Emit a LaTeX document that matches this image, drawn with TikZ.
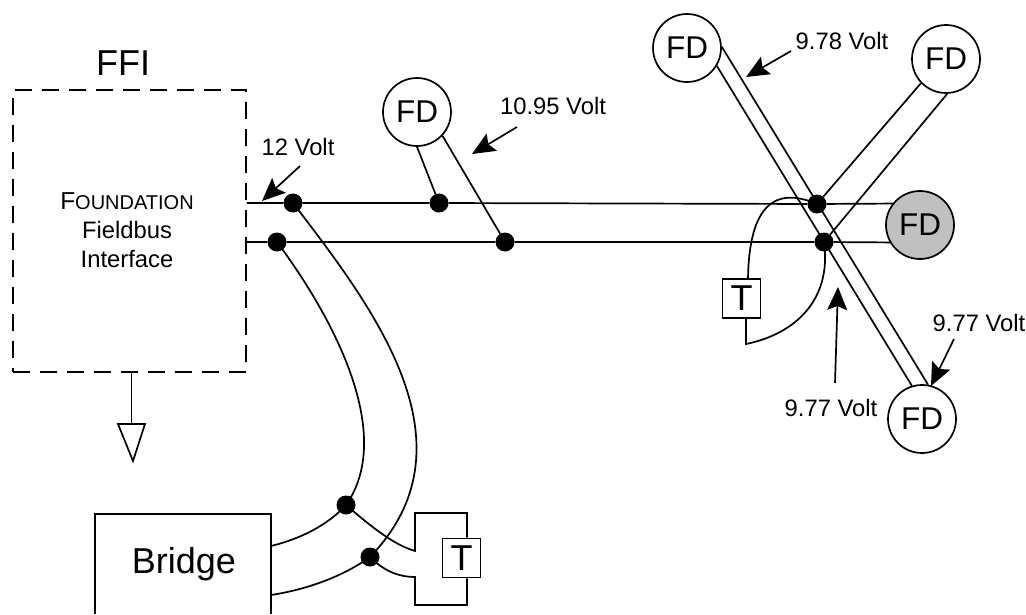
\documentclass[tikz,border=0pt]{standalone}
\usepackage{fontspec}
\setmainfont{Liberation Sans}
\usetikzlibrary{arrows.meta}
\newcommand{\fsz}[1]{\fontsize{#1pt}{#1pt}\selectfont}
\tikzset{
  x=1pt,y=-1pt,
  wire/.style={line width=1.7pt},
  fdnode/.style={circle,draw,line width=1.7pt,minimum size=68pt,inner sep=0pt,font=\fsz{31.5}},
  dotnode/.style={circle,fill=black,minimum size=19pt,inner sep=0pt},
  tbox/.style={rectangle,draw,line width=1.7pt,minimum width=38pt,minimum height=39pt,inner sep=0pt,font=\fsz{36}},
  lbl/.style={inner sep=0pt,font=\fsz{23.8}},
  callout/.style={line width=1.7pt,-{Stealth[length=23pt,width=20pt,inset=4pt]}},
}
\begin{document}
\begin{tikzpicture}
\useasboundingbox (0,0) rectangle (1026,614);
% nodes
\node[fdnode] (fda) at (687,48) {FD};
\node[fdnode] (fdb) at (946,59) {FD};
\node[fdnode,fill={rgb,255:red,192;green,192;blue,192}] (fdc) at (920,225) {FD};
\node[fdnode] (fdd) at (922,419) {FD};
\node[fdnode] (fde) at (417,112) {FD};
\node[draw,dash pattern=on 17pt off 10pt,line width=1.7pt,minimum width=233pt,minimum height=282pt,inner sep=0pt] (ffi) at (129.5,231) {};
\node[lbl,font=\fsz{36}] (ffit) at (123,63) {FFI};
\node[lbl,align=center,anchor=center] (ffil) at (127,230) {{\fsz{24.5}F\fsz{20}OUNDATION}\\[5pt]Fieldbus\\[5pt]Interface};
\node[dotnode] (d1) at (293,203) {};
\node[dotnode] (d2) at (277,242) {};
\node[dotnode] (d3) at (439,203) {};
\node[dotnode] (d4) at (505,242) {};
\node[dotnode] (d5) at (817,204) {};
\node[dotnode] (d6) at (824,242) {};
\node[dotnode] (d7) at (346,505) {};
\node[dotnode] (d8) at (370,557) {};
\node[tbox] (t1) at (741.5,298.5) {T};
\node[tbox] (t2) at (461.5,558) {T};
\node[lbl,font=\fsz{36}] (brl) at (184,564) {Bridge};
\node[lbl] (v1) at (298,147) {12 Volt};
\node[lbl] (v2) at (553,106) {10.95 Volt};
\node[lbl] (v3) at (842,41) {9.78 Volt};
\node[lbl] (v4) at (979,323) {9.77 Volt};
\node[lbl] (v5) at (831,408) {9.77 Volt};
% free ends
\coordinate (brtl) at (95,514);
\coordinate (brtr) at (271,514);
\coordinate (brbl) at (95,614);
\coordinate (brbr) at (271,614);
\coordinate (bru) at (271,546);
\coordinate (brd) at (271,595);
\coordinate (ga) at (131.5,372);
\coordinate (gb) at (131.5,424);
\coordinate (gl) at (118,424);
\coordinate (gr) at (145,424);
\coordinate (gt) at (133,461);
\coordinate (b1) at (415,551);
\coordinate (b2) at (415,513);
\coordinate (b3) at (467,513);
\coordinate (b4) at (467,605);
\coordinate (b5) at (415,605);
\coordinate (b6) at (415,577);
\coordinate (tl) at (746,344);
\coordinate (a1) at (262,201);
\coordinate (a2) at (472,154);
\coordinate (a3) at (746,77);
\coordinate (a4) at (931,386);
\coordinate (a5) at (838,287);
\coordinate (s1) at (300,166);
\coordinate (s2) at (517,127);
\coordinate (s3) at (791,51);
\coordinate (s4) at (954,339);
\coordinate (s5) at (835,383);
% bus
\draw[wire] (ffi.east |- d1) -- (d1) -- (d3) -- (d5) -- (fdc.142);
\draw[wire] (ffi.east |- d2) -- (d2) -- (d4) -- (d6) -- (fdc.210);
% field devices
\draw[wire] (fde.-90) -- (d3);
\draw[wire] (fde.-43) -- (d4);
\draw[wire] (fda.-31) -- (fdd.107);
\draw[wire] (fda.2) -- (fdd.80);
\draw[wire] (fdb.-136) -- (d5);
\draw[wire] (fdb.-88) -- (d6);
% terminator right
\draw[wire] (d5.center) .. controls (775,186) and (749,205) .. (748,279);
\draw[wire] (t1.south -| tl) -- (tl) .. controls (795,334) and (832,300) .. (d6.center);
% bridge
\draw[wire] (brbl) -- (brtl) -- (brtr) -- (brbr);
\draw[wire] (d2.center) .. controls (335,320) and (395,435) .. (d7.center);
\draw[wire] (d1.center) .. controls (375,310) and (478,445) .. (d8.center);
\draw[wire] (bru) .. controls (300,539) and (328,525) .. (d7.center);
\draw[wire] (brd) .. controls (310,589) and (345,575) .. (d8.center);
% terminator bottom
\draw[wire] (d7.center) .. controls (375,530) and (395,545) .. (b1) -- (b2) -- (b3) -- (b3 |- t2.north);
\draw[wire] (d8.center) .. controls (385,572) and (400,577) .. (b6) -- (b5) -- (b4) -- (b4 |- t2.south);
% ground
\draw[wire] (ga) -- (gb);
\draw[wire,line join=miter] (gl) -- (gr) -- (gt) -- cycle;
% callouts
\draw[callout] (s1) -- (a1);
\draw[callout] (s2) -- (a2);
\draw[callout] (s3) -- (a3);
\draw[callout] (s4) -- (a4);
\draw[callout] (s5) -- (a5);
\end{tikzpicture}
\end{document}
